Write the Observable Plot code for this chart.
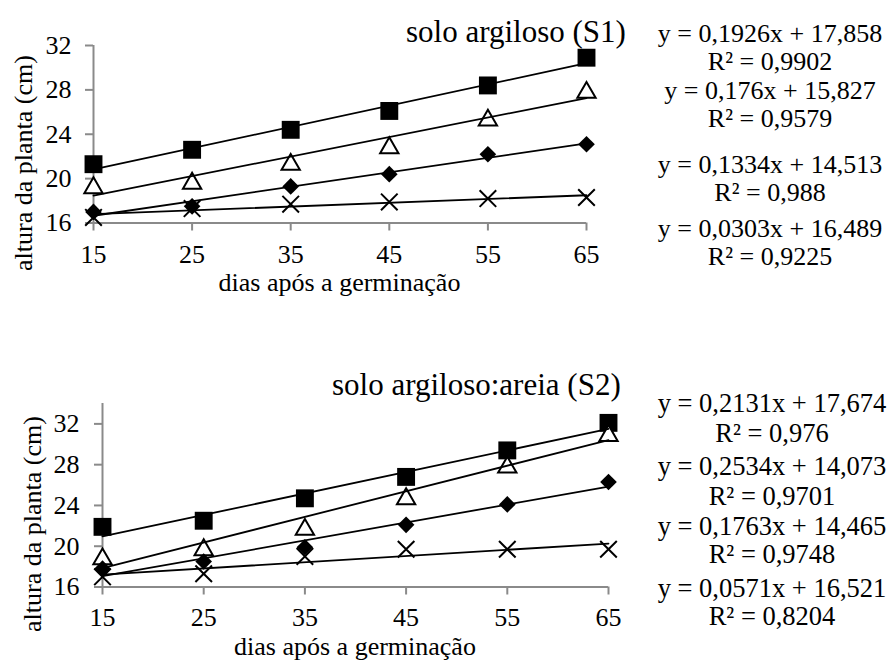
<!DOCTYPE html>
<html>
<head>
<meta charset="utf-8">
<script src="https://cdn.jsdelivr.net/npm/d3@7"></script>
<script src="https://cdn.jsdelivr.net/npm/@observablehq/plot@0.6"></script>
<style>
  html, body { margin: 0; padding: 0; background: #fff; }
  #chart { position: relative; width: 894px; height: 670px; overflow: hidden; background: #fff; }
  #chart > svg, #chart > div { position: absolute; }
  #overlay { left: 0; top: 0; pointer-events: none; }
</style>
</head>
<body>
<div id="chart"></div>
<script>
// ---- data ----
const dias = [15, 25, 35, 45, 55, 65];
const xTicks = [15, 25, 35, 45, 55, 65];
const yTicks = [16, 20, 24, 28, 32];

// solo argiloso (S1)
const s1Quadrado  = [21.3, 22.6, 24.4, 26.1, 28.4, 30.9];
const s1Triangulo = [19.4, 19.8, 21.5, 23.0, 25.5, 28.0];
const s1Losango   = [17.0, 17.5, 19.3, 20.4, 22.2, 23.1];
const s1Xis       = [16.5, 17.3, 17.7, 17.9, 18.2, 18.3];
const s1Equacoes  = ["y = 0,1926x + 17,858", "y = 0,176x + 15,827", "y = 0,1334x + 14,513", "y = 0,0303x + 16,489"];
const s1R2        = ["R² = 0,9902", "R² = 0,9579", "R² = 0,988", "R² = 0,9225"];

// solo argiloso:areia (S2)
const s2Quadrado  = [21.9, 22.5, 24.7, 26.8, 29.4, 32.1];
const s2Triangulo = [19.0, 19.9, 21.9, 24.9, 28.0, 31.1];
const s2Losango   = [17.8, 18.5, 19.9, 22.1, 24.1, 26.3];
const s2Xis       = [17.0, 17.3, 19.0, 19.7, 19.7, 19.7];
const s2Equacoes  = ["y = 0,2131x + 17,674", "y = 0,2534x + 14,073", "y = 0,1763x + 14,465", "y = 0,0571x + 16,521"];
const s2R2        = ["R² = 0,976", "R² = 0,9701", "R² = 0,9748", "R² = 0,8204"];

const titulos = ["solo argiloso (S1)", "solo argiloso:areia (S2)"];
const xTitulo = "dias após a germinação";
const yTitulo = "altura da planta (cm)";

// ---- build tables ----
function tabela(series) {
  const rows = [];
  for (const [nome, vals] of Object.entries(series)) {
    vals.forEach((v, i) => rows.push({ serie: nome, dia: dias[i], altura: v }));
  }
  return rows;
}
const dados1 = tabela({ quadrado: s1Quadrado, triangulo: s1Triangulo, losango: s1Losango, xis: s1Xis });
const dados2 = tabela({ quadrado: s2Quadrado, triangulo: s2Triangulo, losango: s2Losango, xis: s2Xis });

const FONT = "'Liberation Serif', 'Times New Roman', Tinos, serif";
const AXIS = "#8a8a8a";

function painel(dados, o) {
  const f = s => dados.filter(d => d.serie === s);
  return Plot.plot({
    width: o.width, height: o.height,
    marginTop: o.mt, marginBottom: o.mb, marginLeft: o.ml, marginRight: o.mr,
    x: { domain: [15, 65] },
    y: { domain: [16, o.yMax] },
    style: { fontFamily: FONT, fontSize: "26px", color: "black", background: "transparent", overflow: "visible" },
    marks: [
      Plot.axisX({ ticks: xTicks, tickSize: 8, tickPadding: o.xpad, stroke: AXIS, strokeWidth: 2, fill: "black", label: null, fontSize: 26 }),
      Plot.axisY({ ticks: yTicks, tickSize: 8, tickPadding: o.ypad, stroke: AXIS, strokeWidth: 2, fill: "black", label: null, fontSize: 26 }),
      Plot.ruleY([16], { stroke: AXIS, strokeWidth: 2 }),
      Plot.ruleX([15], { stroke: AXIS, strokeWidth: 2 }),
      Plot.dot(f("quadrado"), { x: "dia", y: "altura", symbol: "square", r: 10.1, fill: "black", stroke: "none" }),
      Plot.dot(f("triangulo"), { x: "dia", y: "altura", symbol: "triangle", r: 6.8, dy: 2.6, fill: "white", stroke: "black", strokeWidth: 2 }),
      Plot.dot(f("losango"), { x: "dia", y: "altura", symbol: "diamond2", r: 7.5, fill: "black", stroke: "none" }),
      Plot.dot(f("xis"), { x: "dia", y: "altura", symbol: "times", r: 7.6, fill: "none", stroke: "black", strokeWidth: 2 }),
      Plot.linearRegressionY(dados, { x: "dia", y: "altura", z: "serie", stroke: "black", strokeWidth: 1.8, ci: 0 })
    ]
  });
}

const chart = document.getElementById("chart");
const p1 = painel(dados1, { width: 620, height: 310, mt: 45, mb: 87.5, ml: 93, mr: 34, yMax: 32, xpad: 14, ypad: 14 });
p1.style.left = "0px"; p1.style.top = "0px";
chart.appendChild(p1);
const p2 = painel(dados2, { width: 640, height: 330, mt: 63, mb: 83.5, ml: 102, mr: 32, yMax: 34, xpad: 13, ypad: 15 });
p2.style.left = "0px"; p2.style.top = "340px";
chart.appendChild(p2);

// ---- text overlay ----
const svg = d3.select(chart).append("svg").attr("id", "overlay")
  .attr("width", 894).attr("height", 670)
  .style("font-family", FONT).style("fill", "black");

svg.append("text").attr("x", 406).attr("y", 41.5).attr("font-size", 31).text(titulos[0]);
svg.append("text").attr("x", 332).attr("y", 395).attr("font-size", 31).text(titulos[1]);

svg.append("text").attr("x", 339.5).attr("y", 290.5).attr("font-size", 26).attr("text-anchor", "middle").text(xTitulo);
svg.append("text").attr("x", 355).attr("y", 655).attr("font-size", 26).attr("text-anchor", "middle").text(xTitulo);

svg.append("text").attr("transform", "translate(32,163) rotate(-90)").attr("font-size", 26).attr("text-anchor", "middle").text(yTitulo);
svg.append("text").attr("transform", "translate(41,524) rotate(-90)").attr("font-size", 26).attr("text-anchor", "middle").text(yTitulo);

// each trendline label = one two-line text (equation + R²)
function rotulo(eq, r2, x, y, gap, fs) {
  const t = svg.append("text").attr("font-size", fs).attr("text-anchor", "middle").attr("y", y);
  t.append("tspan").attr("x", x).text(eq);
  t.append("tspan").attr("x", x).attr("dy", gap).text(r2);
}
const eq1Y = [42, 99, 172.5, 237], gap1 = [28, 28, 28, 28];
const eq2Y = [412, 475, 535, 597], gap2 = [30, 30, 28, 28];
s1Equacoes.forEach((t, i) => rotulo(t, s1R2[i], 770, eq1Y[i], gap1[i], 26));
s2Equacoes.forEach((t, i) => rotulo(t, s2R2[i], 772, eq2Y[i], gap2[i], 26.5));
</script>
</body>
</html>
